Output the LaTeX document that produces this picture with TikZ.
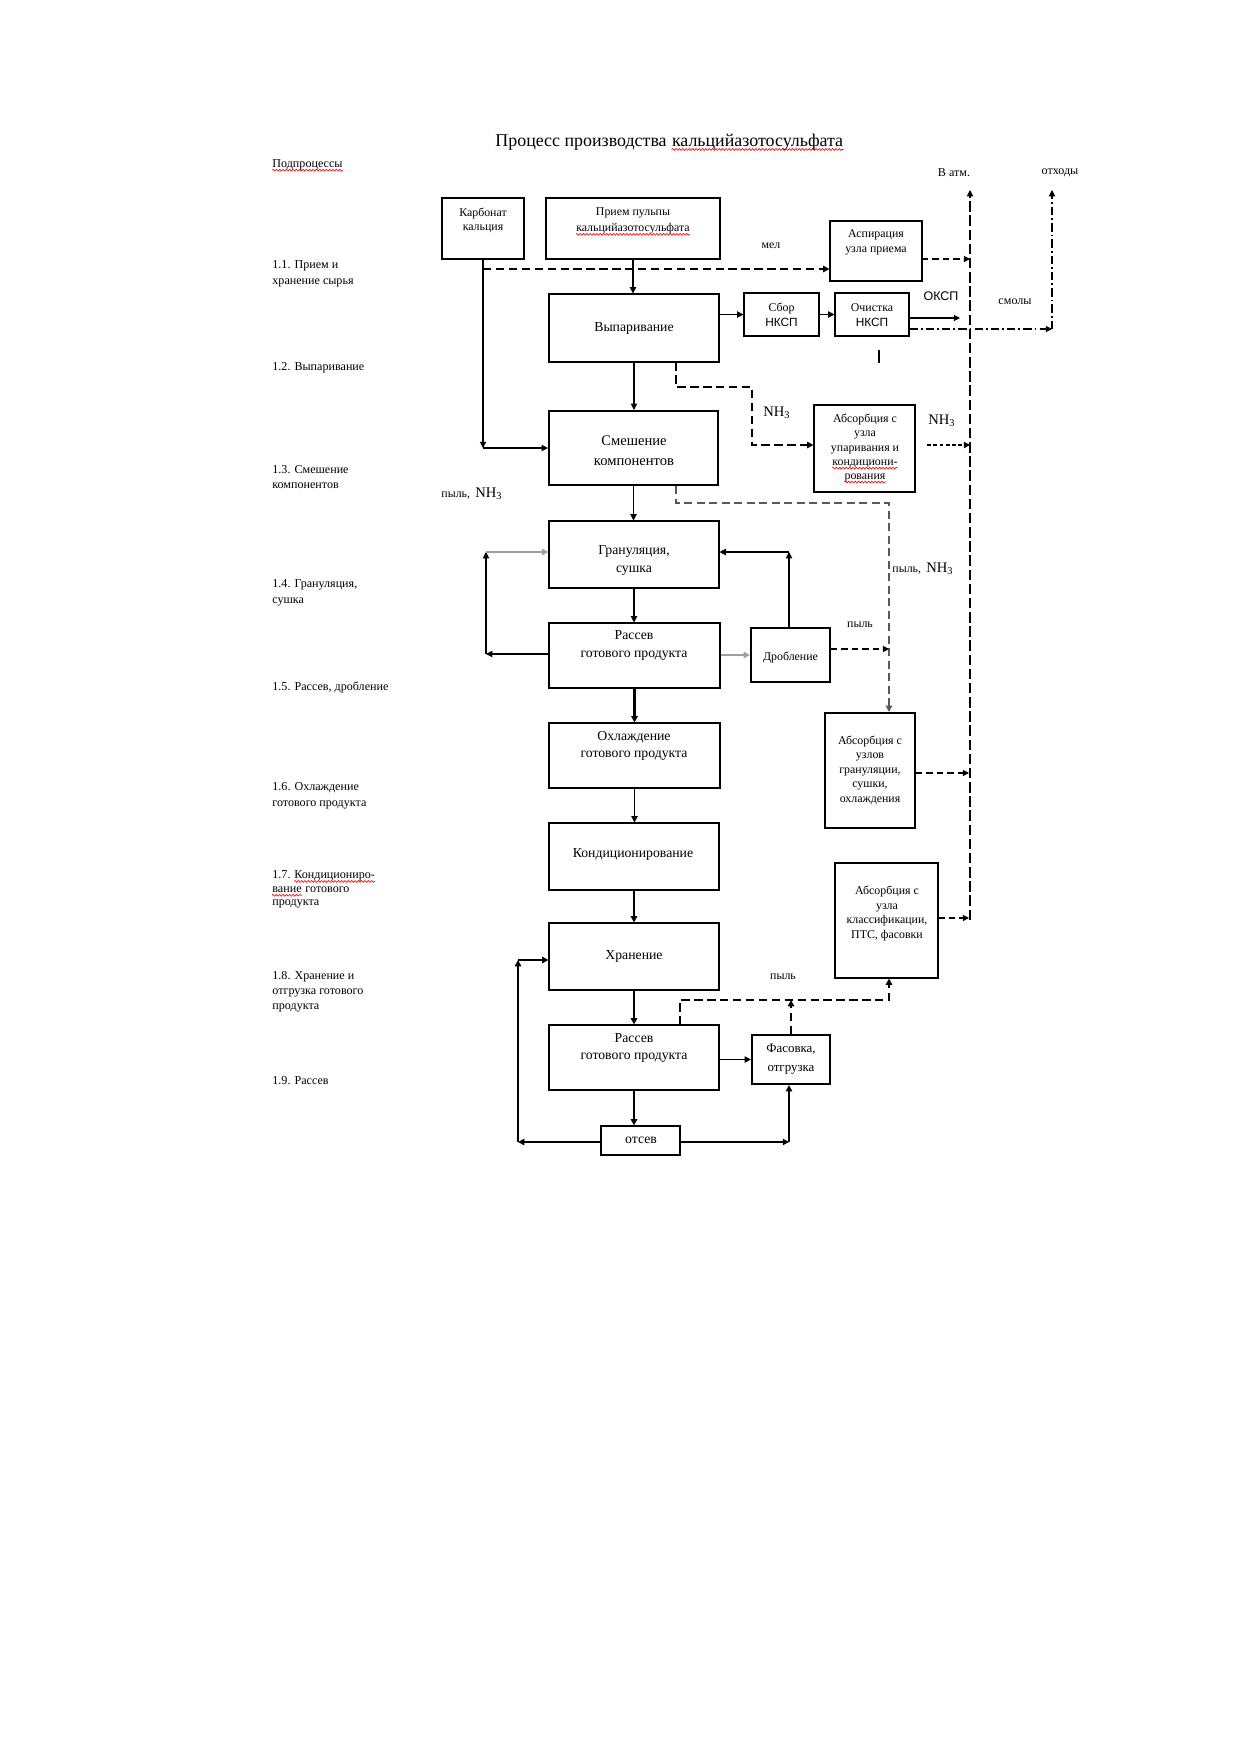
\documentclass[tikz,border=0pt]{standalone}
\usepackage{fontspec}
\setmainfont{Liberation Serif}
\setsansfont{Liberation Sans}
\usetikzlibrary{arrows.meta,calc,decorations.pathmorphing}
\newcommand\fsBox{\fontsize{6.6}{8.3}\selectfont}
\newcommand\fsBig{\fontsize{7}{9.6}\selectfont}
\newcommand\fsSmall{\fontsize{5.7}{7}\selectfont}
\newcommand\fsLeft{\fontsize{5.8}{7.4}\selectfont}
\newcommand\fsTitle{\fontsize{8.6}{10}\selectfont}
\newcommand\fsNH{\fontsize{7}{8}\selectfont}
\newcommand\mybox[6]{\node[#6, minimum width={#4*0.48pt}, minimum height={#5*0.48pt}] (#1) at (#2,#3) {};}
\tikzset{
  bx/.style={draw, line width=0.5pt, inner sep=0pt},
  bxT/.style={draw, line width=1pt, inner sep=0pt},
  tx/.style={inner sep=0pt, align=center, font=\fsBox},
  ts/.style={inner sep=0pt, align=center, font=\fsSmall},
  lb/.style={inner sep=0pt, align=left, font=\fsLeft, anchor=west},
  atip/.style={-{Triangle[length=3pt,width=3pt]}},
  ar/.style={line width=0.5pt, atip},
  arT/.style={line width=1pt, atip},
  arG/.style={line width=1.3pt, gray!75, atip},
  dA/.style={line width=0.9pt, dash pattern=on 4pt off 2.2pt, atip},
  dB/.style={line width=0.5pt, dash pattern=on 5pt off 1.8pt, atip},
  dC/.style={line width=0.5pt, dash pattern=on 3pt off 2pt, atip},
  dD/.style={line width=0.6pt, gray!70!black, dash pattern=on 4pt off 2pt, atip},
  dE/.style={line width=0.9pt, dash pattern=on 1.8pt off 1.2pt, atip},
  dF/.style={line width=0.5pt, dash pattern=on 4pt off 1.5pt on 0.8pt off 1.5pt, atip},
  wav/.style={red, line width=0.3pt, decorate, decoration={snake, amplitude=0.45pt, segment length=1.6pt}}
}
\begin{document}
\begin{tikzpicture}[x=0.48pt,y=-0.48pt]
\fill[white] (0,0) rectangle (1240,1754);
\useasboundingbox (0,0) rectangle (1240,1754);

% title
\node[inner sep=0pt, font=\fsTitle, anchor=west] (ttlA) at (495,143) {Процесс производства};
\node[inner sep=0pt, font=\fsTitle, anchor=base west] (ttlB) at ($(ttlA.base east)+(4.5,0)$) {кальцийазотосульфата};
\draw[wav] ($(ttlB.base west)+(0,2.5)$) -- ($(ttlB.base east)+(0,2.5)$);

% left labels
\node[lb] (lsub) at (272,165) {Подпроцессы};
\draw[wav] ($(lsub.base west)+(0,2.5)$) -- ($(lsub.base east)+(0,2.5)$);
\node[lb] (lA) at (272,273.7) {1.1. Прием и\\хранение сырья};
\node[lb] (lB) at (272,367.3) {1.2. Выпаривание};
\node[lb] (lC) at (272,476.8) {1.3. Смешение\\компонентов};
\node[lb] (lD) at (272,592.8) {1.4. Грануляция,\\сушка};
\node[lb] (lE) at (272,687.3) {1.5. Рассев, дробление};
\node[lb] (lF) at (272,795.8) {1.6. Охлаждение\\готового продукта};
\node[lb] (lGa) at (272,875) {1.7.~};
\node[inner sep=0pt, font=\fsLeft, anchor=base west] (lGb) at (lGa.base east) {Кондициониро-};
\draw[wav] ($(lGb.base west)+(0,2.5)$) -- ($(lGb.base east)+(0,2.5)$);
\node[lb] (lGc) at (272,890) {вание};
\draw[wav] ($(lGc.base west)+(0,2.5)$) -- ($(lGc.base east)+(0,2.5)$);
\node[inner sep=0pt, font=\fsLeft, anchor=base west] (lGd) at (lGc.base east) {~готового};
\node[lb] (lGe) at (272,904.3) {продукта};
\node[lb] (lH) at (272,991.7) {1.8. Хранение и\\отгрузка готового\\продукта};
\node[lb] (lI) at (272,1080.7) {1.9. Рассев};

% boxes
\mybox{karb}{483}{228.5}{82}{61}{bx}
\mybox{priem}{633}{228.5}{174}{61}{bx}
\mybox{asp}{876}{251}{92}{60}{bx}
\mybox{vyp}{634}{328}{170}{68}{bx}
\mybox{sbor}{781.5}{314.5}{75}{43}{bx}
\mybox{ochist}{872}{314.5}{74}{43}{bx}
\mybox{smesh}{633.5}{448}{169}{74}{bxT}
\mybox{absA}{864.5}{448.5}{101}{87}{bx}
\mybox{gran}{634}{554.5}{170}{67}{bx}
\mybox{rassA}{634.5}{655.5}{171}{65}{bx}
\mybox{drob}{790.5}{655}{79}{54}{bxT}
\mybox{absB}{870}{770.5}{90}{115}{bxT}
\mybox{ohl}{634.5}{755.5}{171}{65}{bx}
\mybox{kond}{634}{856.5}{170}{67}{bx}
\mybox{hran}{634}{956.5}{170}{67}{bx}
\mybox{absC}{886.5}{920.5}{103}{115}{bx}
\mybox{rassB}{634}{1057.5}{170}{65}{bx}
\mybox{fas}{791}{1059.5}{78}{49}{bxT}
\mybox{otsev}{640.5}{1140.5}{79}{29}{bx}

% box texts
\node[ts] (karbT) at (483,220.5) {Карбонат\\кальция};
\node[ts] (priemTa) at (633,213) {Прием пульпы};
\node[ts] (priemTb) at (633,229) {кальцийазотосульфата};
\draw[wav] ($(priemTb.base west)+(0,2.5)$) -- ($(priemTb.base east)+(0,2.5)$);
\node[ts] (aspT) at (876,242.5) {Аспирация\\узла приема};
\node[tx] (vypT) at (634,328) {Выпаривание};
\node[ts] (sborT) at (781.5,315) {Сбор\\{\sffamily НКСП}};
\node[ts] (ochistT) at (872,315) {Очистка\\{\sffamily НКСП}};
\node[inner sep=0pt, align=center, font=\fsBig] (smeshT) at (634,451) {Смешение\\компонентов};
\node[ts] (absAT) at (865,434) {Абсорбция с\\узла\\упаривания и};
\node[ts] (absATd) at (865,464) {кондициони-};
\draw[wav] ($(absATd.base west)+(0,2.5)$) -- ($(absATd.base east)+(0,2.5)$);
\node[ts] (absATe) at (865,478) {рования};
\draw[wav] ($(absATe.base west)+(0,2.5)$) -- ($(absATe.base east)+(0,2.5)$);
\node[tx] (granT) at (634,560.5) {Грануляция,\\сушка};
\node[tx] (rassAT) at (634,645.4) {Рассев\\готового продукта};
\node[ts] (drobT) at (790.5,658) {Дробление};
\node[ts] (absBT) at (870,770.3) {Абсорбция с\\узлов\\грануляции,\\сушки,\\охлаждения};
\node[tx] (ohlT) at (634,745.7) {Охлаждение\\готового продукта};
\node[tx] (kondT) at (633,854) {Кондиционирование};
\node[tx] (hranT) at (634,956) {Хранение};
\node[ts] (absCT) at (887,913.3) {Абсорбция с\\узла\\классификации,\\ПТС, фасовки};
\node[tx] (rassBT) at (634,1047.7) {Рассев\\готового продукта};
\node[inner sep=0pt, align=center, font=\fontsize{6.2}{9}\selectfont] (fasT) at (791,1059) {Фасовка,\\отгрузка};
\node[tx] (otsevT) at (641,1140) {отсев};

% labels
\node[ts] (lblMel) at (771,246) {мел};
\node[inner sep=0pt, font=\fontsize{6}{7}\sffamily] (lblOKSP) at (941,296) {ОКСП};
\node[inner sep=0pt, font=\fsLeft] (lblSmoly) at (1015,302) {смолы};
\node[inner sep=0pt, font=\fsLeft] (lblAtm) at (954,173) {В атм.};
\node[inner sep=0pt, font=\fsLeft] (lblOtx) at (1060,173) {отходы};
\node[inner sep=0pt, font=\fsNH] (lblNHa) at (777,413) {NH\textsubscript{3}};
\node[inner sep=0pt, font=\fsNH] (lblNHb) at (942,421) {NH\textsubscript{3}};
\node[inner sep=0pt] (lblPA) at (472,494) {{\fsSmall пыль,} {\fsNH NH\textsubscript{3}}};
\node[inner sep=0pt] (lblPB) at (923,569) {{\fsSmall пыль,} {\fsNH NH\textsubscript{3}}};
\node[ts] (lblPC) at (860,625) {пыль};
\node[ts] (lblPD) at (783,977) {пыль};

% coordinates
\coordinate (atm) at (970,190);
\coordinate (atmb) at (970,920);
\coordinate (otx) at (1052,190);
\coordinate (otxb) at (1052,329);
\coordinate (kc) at (karb.south |- smesh.west);
\coordinate (m0) at (483,269);
\coordinate (aspo) at (922,259);
\coordinate (oksp) at (960,318);
\coordinate (va) at (676,387);
\coordinate (vb) at (752,387);
\coordinate (vc) at (752,445);
\coordinate (na) at (927,445);
\coordinate (sa) at (676,503);
\coordinate (sb) at (889,503);
\coordinate (La) at (486,654);
\coordinate (Lb) at (486,552);
\coordinate (Ra) at (789,552);
\coordinate (da) at (889,649);
\coordinate (Ba) at (518,1142);
\coordinate (Bb) at (518,960);
\coordinate (Bc) at (789,1142);
\coordinate (Pa) at (680,1000);
\coordinate (Pb) at (889,1000);
\coordinate (ab) at (969,773);
\coordinate (ac) at (969,918);

% connectors
\draw[ar] (priem.south) -- (priem.south |- vyp.north);
\draw[ar] (karb.south) -- (kc);
\draw[ar] (kc) -- (smesh.west);
\draw[dA] (m0) -- (m0 -| asp.west);
\draw[dC] (aspo) -- (aspo -| atm);
\draw[ar] (vyp.east |- sbor.west) -- (sbor.west);
\draw[ar] (sbor.east) -- (ochist.west);
\draw[ar] (ochist.east |- oksp) -- (oksp);
\draw[dF] (otxb -| ochist.east) -- (otxb);
\draw[dF] (otxb) -- (otx);
\draw[dB] (atmb) -- (atm);
\draw[dA] (va |- vyp.south) -- (va) -- (vb) -- (vc) -- (vc -| absA.west);
\draw[dE] (na) -- (na -| atm);
\draw[ar] (vyp.south) -- (vyp.south |- smesh.north);
\draw[ar] (smesh.south) -- (smesh.south |- gran.north);
\draw[dD] (sa |- smesh.south) -- (sa) -- (sb) -- (sb |- absB.north);
\draw[ar] (gran.south) -- (gran.south |- rassA.north);
\draw[ar] (rassA.west |- La) -- (La);
\draw[ar] (La) -- (Lb);
\draw[arG] (Lb) -- (Lb -| gran.west);
\draw[arG] (rassA.east |- drob.west) -- (drob.west);
\draw[ar] (drob.north -| Ra) -- (Ra);
\draw[ar] (Ra) -- (Ra -| gran.east);
\draw[dC] (da -| drob.east) -- (da);
\draw[arT] (rassA.south) -- (rassA.south |- ohl.north);
\draw[ar] (ohl.south) -- (ohl.south |- kond.north);
\draw[arT] (kond.south) -- (kond.south |- hran.north);
\draw[arT] (hran.south) -- (hran.south |- rassB.north);
\draw[ar] (rassB.east |- fas.west) -- (fas.west);
\draw[arT] (rassB.south) -- (rassB.south |- otsev.north);
\draw[arT] (otsev.west |- Ba) -- (Ba);
\draw[arT] (Ba) -- (Bb);
\draw[arT] (Bb) -- (Bb -| hran.west);
\draw[arT] (otsev.east |- Bc) -- (Bc);
\draw[arT] (Bc) -- (Bc |- fas.south);
\draw[dA] (Pa |- rassB.north) -- (Pa) -- (Pb) -- (Pb |- absC.south);
\draw[dA] (fas.north) -- (fas.north |- Pa);
\draw[dC] (ab -| absB.east) -- (ab);
\draw[dC] (ac -| absC.east) -- (ac);
\draw[line width=1.2pt] (879,350) -- (879,363);
\end{tikzpicture}
\end{document}
